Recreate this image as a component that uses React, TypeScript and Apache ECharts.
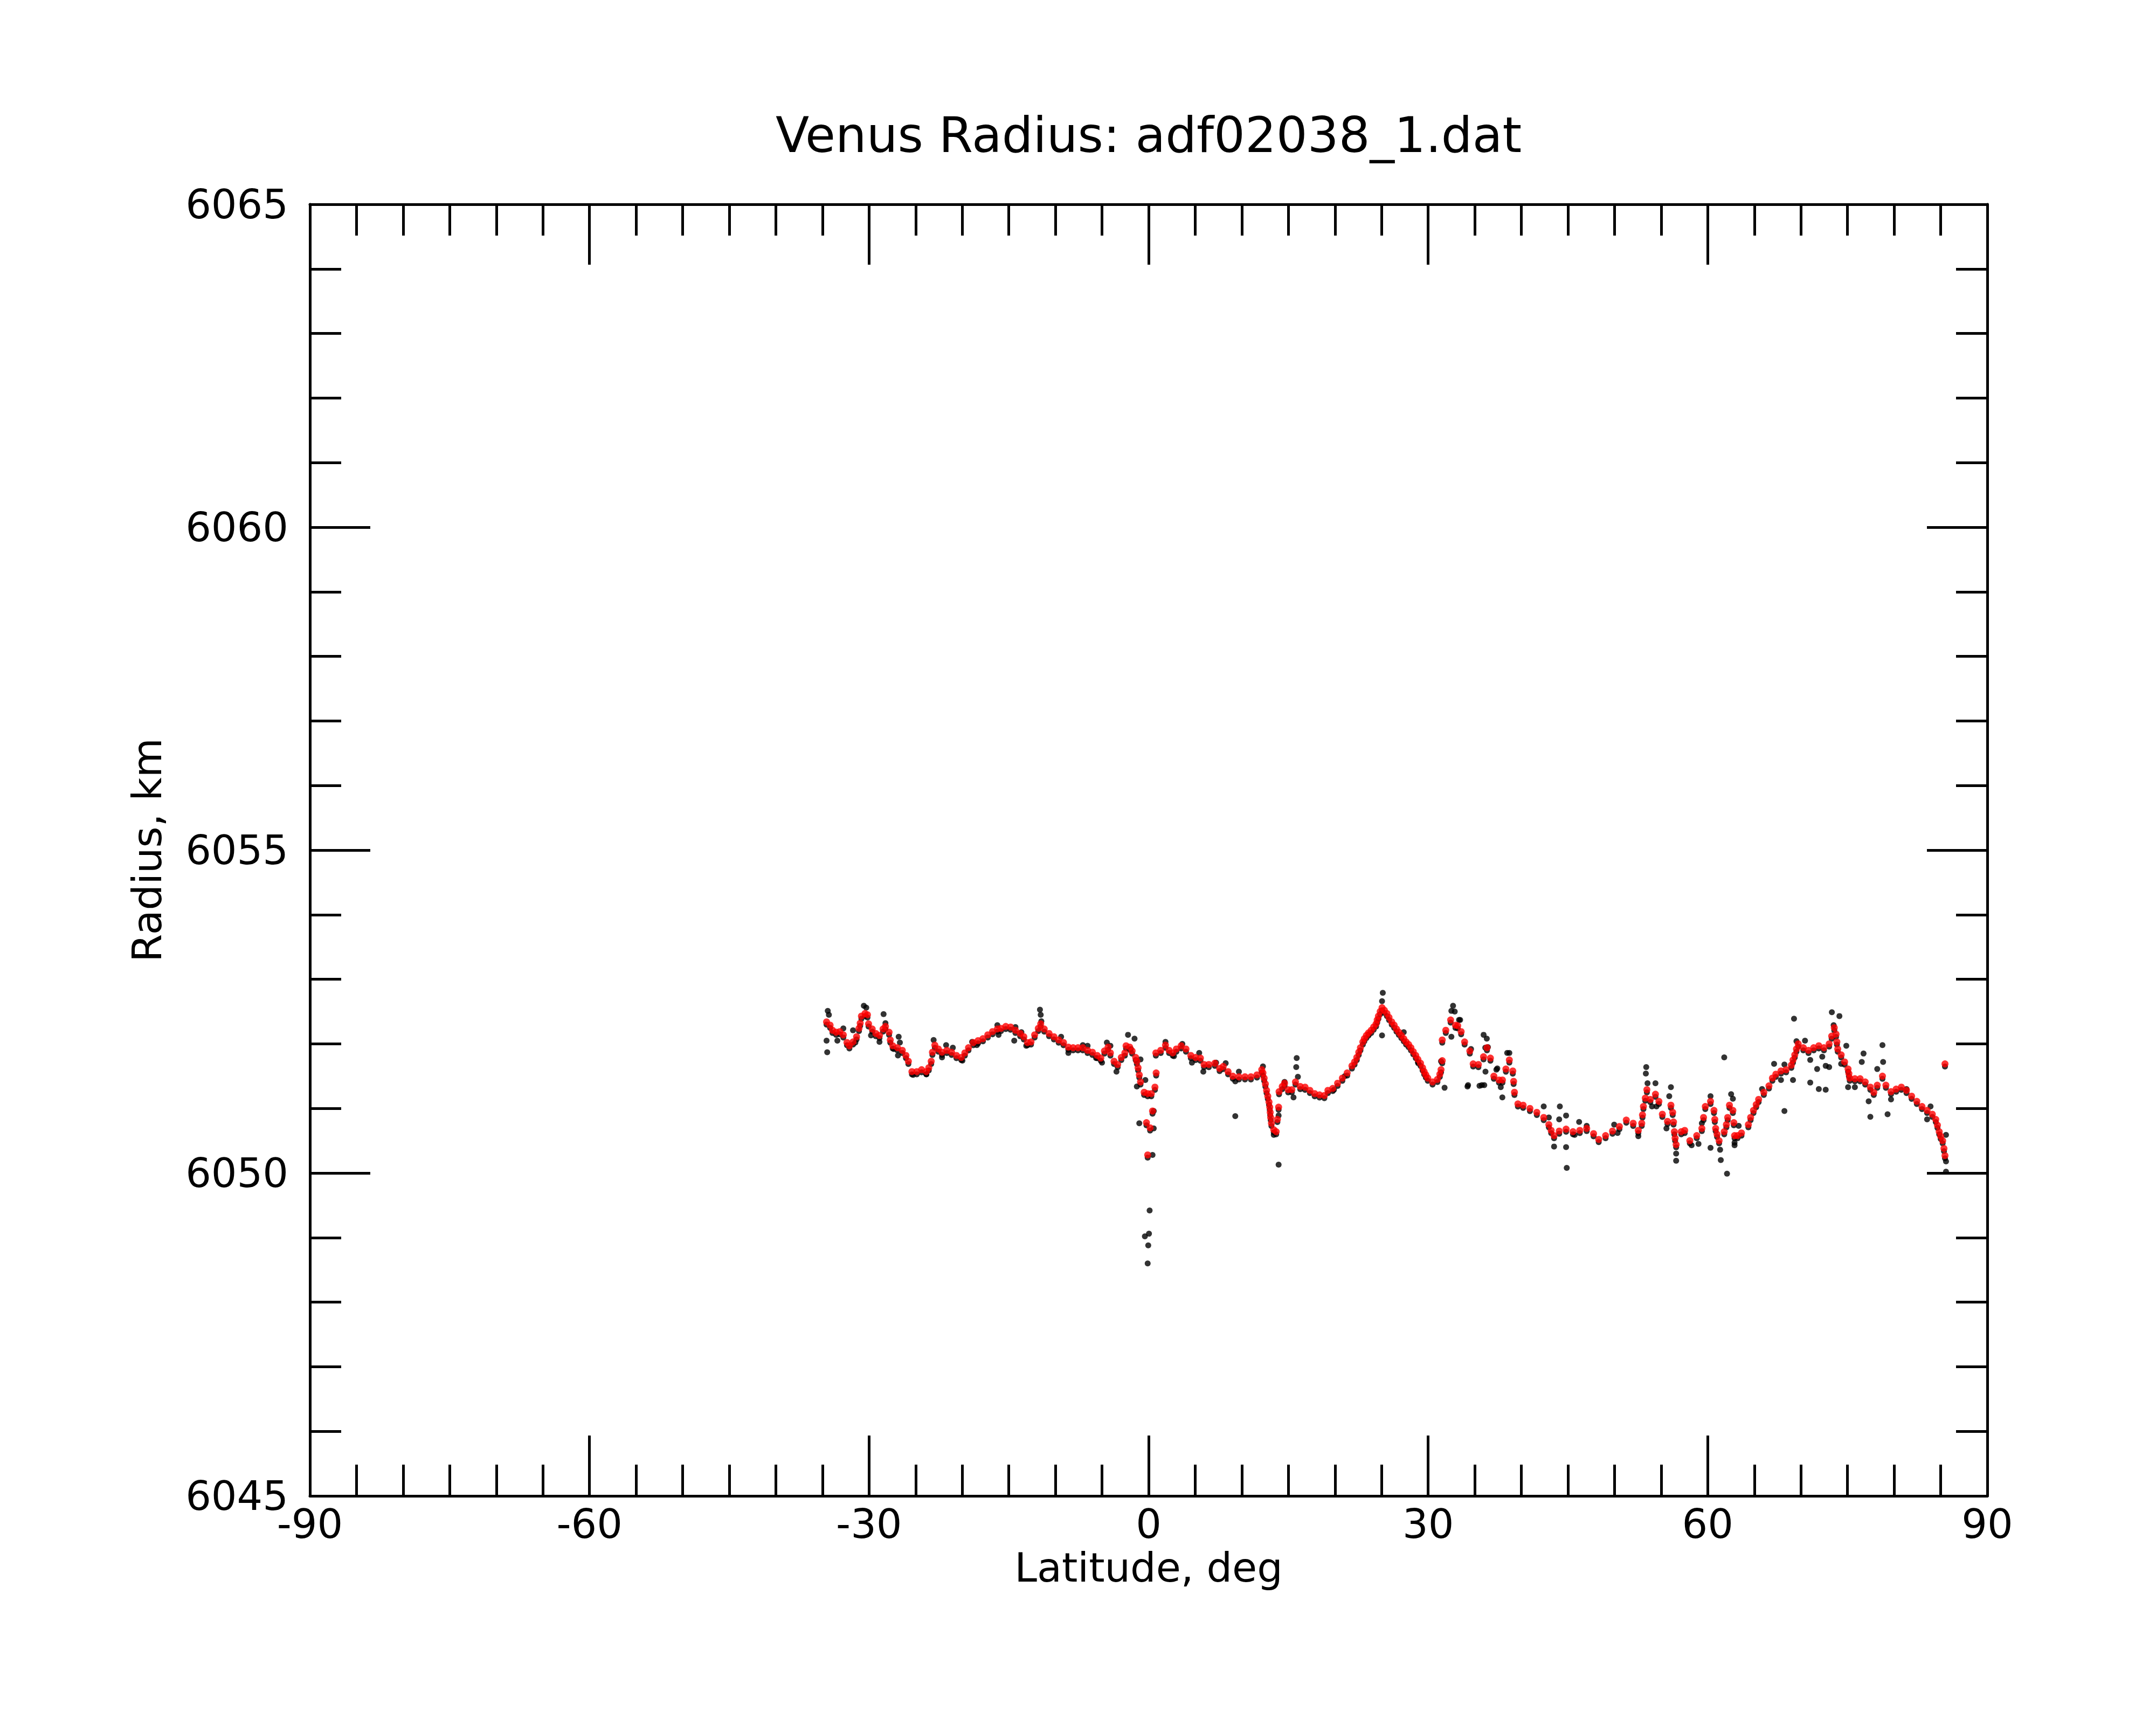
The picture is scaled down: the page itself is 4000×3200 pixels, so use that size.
import React, { useEffect, useRef } from "react";
import * as echarts from "echarts";

// Smoothed radius profile (red)
const smoothLat = [
  -34.56, -34.18, -33.92, -33.53, -33.14, -32.76, -32.37, -32.11, -31.72, -31.34,
  -31.08, -30.95, -30.82, -30.43, -30.17, -30.05, -29.66, -29.27, -28.88, -28.5,
  -28.24, -27.85, -27.72, -27.46, -26.95, -26.43, -26.04, -25.78, -25.4, -24.88,
  -24.36, -23.85, -23.59, -23.33, -23.2, -22.94, -22.56, -22.17, -21.65, -21.14,
  -20.62, -20.1, -19.72, -19.33, -18.81, -18.3, -17.78, -17.26, -16.75, -16.23,
  -15.84, -15.33, -14.81, -14.29, -13.78, -13.39, -13.0, -12.62, -12.23, -11.84,
  -11.58, -11.2, -10.68, -10.16, -9.65, -9.13, -8.61, -8.1, -7.58, -7.06,
  -6.55, -6.03, -5.52, -5.13, -4.74, -4.35, -4.1, -3.71, -3.32, -2.93,
  -2.55, -2.42, -2.03, -1.77, -1.39, -1.26, -1.13, -1.0, -0.87, -0.48,
  -0.1, 0.29, 0.68, 0.81, 0.42, -0.23, 0.16, -0.1,
  0.78, 1.3, 1.81, 2.2, 2.59, 2.98, 3.49, 4.01, 4.53, 5.04,
  5.56, 5.95, 6.46, 7.11, 7.62, 8.01, 8.53, 9.04, 9.69, 10.34,
  10.98, 11.63, 12.14, 12.27, 12.4, 12.53, 12.66, 12.79, 12.92, 13.0,
  13.05, 13.1, 13.18, 13.43, 13.69, 13.82, 13.95, 14.0, 14.34, 14.59,
  14.98, 15.37, 15.76, 16.27, 16.79, 17.31, 17.82, 18.34, 18.86, 19.24,
  19.76, 20.28, 20.79, 21.31, 21.82, 22.1, 22.34, 22.55, 22.73, 22.99,
  23.15, 23.37, 23.6, 23.89, 24.15, 24.41, 24.53, 24.66, 24.85, 25.05,
  25.3, 25.57, 25.8, 26.09, 26.35, 26.6, 26.85, 27.12, 27.38, 27.63,
  27.9, 28.15, 28.4, 28.67, 28.9, 29.18, 29.4, 29.57, 29.75, 29.96,
  30.47, 30.99, 31.25, 31.38, 31.51, 31.51, 31.89, 32.41, 32.93,
  33.17, 33.54, 33.91, 34.47, 34.83, 35.39, 35.94, 36.31, 36.68, 37.05,
  37.6, 37.97, 38.34, 38.71, 39.08, 39.17, 39.26, 39.63, 40.19, 40.92,
  41.66, 42.4, 42.95, 43.2, 43.51, 44.06, 44.8, 45.54, 46.27, 47.01,
  47.75, 48.3, 49.04, 49.78, 50.52, 51.26, 52.0, 52.55, 52.92, 53.0,
  53.1, 53.3, 53.47, 53.84, 54.39, 54.76, 55.13, 55.68, 56.05, 56.24,
  56.33, 56.42, 56.5, 56.61, 57.16, 57.53, 58.08, 58.82, 59.37, 59.55,
  59.74, 60.3, 60.67, 60.76, 60.85, 61.0, 61.22, 61.77, 62.0, 62.14,
  62.33, 62.7, 62.8, 62.88, 63.2, 63.62, 64.36, 64.6, 64.91, 65.2,
  65.46, 66.02, 66.57, 66.94, 67.31, 67.86, 68.41, 68.97, 69.15, 69.34,
  69.52, 69.71, 70.26, 70.81, 71.37, 71.92, 72.47, 73.03, 73.3, 73.58,
  73.77, 73.86, 73.95, 74.32, 74.69, 75.06, 75.15, 75.24, 75.79, 76.35,
  76.9, 77.45, 77.82, 78.19, 78.75, 79.12, 79.67, 80.22, 80.78, 81.33,
  81.88, 82.44, 82.99, 83.54, 84.1, 84.47, 84.65, 84.84, 85.0, 85.21,
  85.35, 85.46, 85.46,
];
const smoothRadius = [
  6052.34, 6052.29, 6052.21, 6052.18, 6052.19, 6052.14, 6052.02, 6051.97, 6052.03, 6052.11,
  6052.24, 6052.32, 6052.43, 6052.47, 6052.45, 6052.31, 6052.23, 6052.16, 6052.13, 6052.23,
  6052.27, 6052.18, 6052.06, 6051.97, 6051.94, 6051.9, 6051.82, 6051.73, 6051.57, 6051.57,
  6051.6, 6051.57, 6051.63, 6051.73, 6051.87, 6051.98, 6051.92, 6051.87, 6051.9, 6051.87,
  6051.82, 6051.79, 6051.86, 6051.94, 6052.02, 6052.05, 6052.08, 6052.14, 6052.19, 6052.23,
  6052.24, 6052.27, 6052.26, 6052.21, 6052.16, 6052.11, 6052.02, 6052.03, 6052.14, 6052.24,
  6052.31, 6052.23, 6052.16, 6052.11, 6052.06, 6052.02, 6051.95, 6051.94, 6051.94, 6051.94,
  6051.9, 6051.87, 6051.82, 6051.78, 6051.89, 6051.95, 6051.86, 6051.73, 6051.68, 6051.79,
  6051.86, 6051.97, 6051.95, 6051.89, 6051.79, 6051.73, 6051.63, 6051.52, 6051.41, 6051.25,
  6051.23, 6051.23, 6051.33, 6051.55, 6050.96, 6050.78, 6050.7, 6050.28,
  6051.86, 6051.9, 6051.98, 6051.9, 6051.86, 6051.92, 6051.97, 6051.92, 6051.82, 6051.79,
  6051.78, 6051.68, 6051.68, 6051.7, 6051.62, 6051.65, 6051.57, 6051.5, 6051.49, 6051.49,
  6051.49, 6051.52, 6051.6, 6051.55, 6051.47, 6051.38, 6051.28, 6051.19, 6051.1, 6051.02,
  6050.94, 6050.86, 6050.77, 6050.67, 6050.64, 6050.83, 6051.02, 6051.26, 6051.34, 6051.39,
  6051.29, 6051.29, 6051.41, 6051.34, 6051.33, 6051.28, 6051.23, 6051.21, 6051.2, 6051.28,
  6051.31, 6051.39, 6051.47, 6051.55, 6051.66, 6051.72, 6051.79, 6051.87, 6051.94, 6052.03,
  6052.08, 6052.13, 6052.17, 6052.21, 6052.26, 6052.31, 6052.37, 6052.43, 6052.5, 6052.56,
  6052.52, 6052.47, 6052.41, 6052.34, 6052.29, 6052.23, 6052.18, 6052.13, 6052.08, 6052.03,
  6051.99, 6051.94, 6051.88, 6051.82, 6051.76, 6051.7, 6051.63, 6051.57, 6051.52, 6051.47,
  6051.41, 6051.45, 6051.53, 6051.6, 6051.74, 6052.06, 6052.21, 6052.37, 6052.29,
  6052.28, 6052.19, 6052.03, 6051.89, 6051.69, 6051.68, 6051.8, 6051.94, 6051.78, 6051.5,
  6051.44, 6051.44, 6051.61, 6051.75, 6051.58, 6051.42, 6051.25, 6051.07, 6051.05, 6051.0,
  6050.94, 6050.86, 6050.75, 6050.66, 6050.58, 6050.65, 6050.68, 6050.64, 6050.66, 6050.69,
  6050.61, 6050.52, 6050.58, 6050.65, 6050.72, 6050.82, 6050.77, 6050.66, 6050.77, 6050.9,
  6051.03, 6051.16, 6051.29, 6051.14, 6051.22, 6051.11, 6050.91, 6050.8, 6051.05, 6050.94,
  6050.79, 6050.64, 6050.54, 6050.44, 6050.64, 6050.66, 6050.5, 6050.58, 6050.69, 6050.86,
  6051.03, 6051.11, 6050.97, 6050.83, 6050.69, 6050.6, 6050.5, 6050.64, 6050.75, 6050.86,
  6051.05, 6050.97, 6050.78, 6050.58, 6050.58, 6050.62, 6050.75, 6050.86, 6050.97, 6051.06,
  6051.14, 6051.25, 6051.35, 6051.47, 6051.53, 6051.58, 6051.6, 6051.67, 6051.75, 6051.83,
  6051.92, 6052.0, 6051.94, 6051.9, 6051.94, 6051.97, 6051.94, 6052.0, 6052.12, 6052.25,
  6052.15, 6052.03, 6051.92, 6051.83, 6051.72, 6051.61, 6051.54, 6051.47, 6051.46, 6051.46,
  6051.41, 6051.33, 6051.25, 6051.36, 6051.5, 6051.36, 6051.26, 6051.3, 6051.33, 6051.28,
  6051.19, 6051.11, 6051.03, 6050.97, 6050.91, 6050.83, 6050.74, 6050.64, 6050.57, 6050.5,
  6050.38, 6050.27, 6051.69,
];

// Raw measurements that stand apart from the smoothed profile (black)
const rawLat = [
  -34.43, -34.31, -34.56, -34.49, -33.4, -32.76, -31.72, -31.47, -30.56, -30.3,
  -29.79, -28.88, -28.44, -28.24, -27.33, -26.82, -26.69, -26.9, -25.27, -23.85,
  -23.07, -22.17, -21.73, -21.01, -19.98, -18.94, -18.43, -16.23, -16.1, -14.29,
  -14.42, -13.65, -13.13, -11.66, -11.58, -11.51, -9.39, -8.61, -7.06, -6.55,
  -5.64, -5.0, -4.48, -4.1, -3.45, -2.21, -1.51, -1.9, -0.87, -1.26,
  -0.35, -1.0, 0.55, 0.55, 0.42, 0.11, -0.4, 0.04, -0.04, -0.1,
  1.81, 2.72, 3.62, 4.65, 5.43, 5.87, 7.24, 8.27, 9.3, 9.69,
  9.3, 12.27, 13.43, 13.95, 13.95, 14.59, 15.55, 15.89, 15.84, 16.02,
  19.89, 21.05, 23.63, 25.05, 25.13, 25.05, 27.38, 28.93, 31.76, 31.38,
  32.67, 32.49, 32.85, 32.49, 33.31, 34.22, 34.6, 35.51, 36.02, 35.95,
  36.29, 36.41, 36.15, 37.32, 37.96, 38.48, 33.43, 36.13, 34.28, 35.76,
  37.42, 38.71, 37.79, 42.4, 42.95, 43.51, 44.13, 44.06, 44.8, 44.8,
  44.87, 45.72, 46.2, 47.01, 49.96, 50.33, 52.55, 53.4, 53.36, 53.54,
  54.39, 54.02, 54.5, 56.05, 55.87, 55.57, 56.61, 56.61, 58.27, 59.01,
  59.37, 60.3, 60.3, 61.77, 61.33, 61.4, 62.07, 62.51, 62.7, 62.88,
  63.32, 62.88, 65.83, 67.12, 67.86, 68.23, 68.23, 69.15, 69.26, 69.52,
  70.44, 71.0, 71.0, 71.74, 71.92, 72.29, 72.66, 72.66, 73.03, 73.32,
  73.51, 74.13, 74.87, 74.32, 75.06, 75.79, 76.72, 76.53, 77.27, 77.45,
  78.19, 78.75, 78.82, 79.3, 79.67, 83.91, 83.54, 85.57, 85.57, 85.57,
  81.33,
];
const rawRadius = [
  6052.51, 6052.45, 6052.05, 6051.87, 6052.05, 6052.24, 6052.21, 6052.02, 6052.59, 6052.56,
  6052.13, 6052.03, 6052.46, 6052.32, 6051.92, 6052.11, 6052.02, 6051.82, 6051.52, 6051.53,
  6052.06, 6051.79, 6051.98, 6051.94, 6051.74, 6052.03, 6051.98, 6052.29, 6052.14, 6052.26,
  6052.05, 6052.18, 6051.97, 6052.53, 6052.45, 6052.35, 6052.11, 6051.86, 6051.98, 6051.97,
  6051.78, 6051.71, 6052.02, 6051.97, 6051.57, 6052.14, 6052.08, 6051.92, 6051.76, 6051.34,
  6051.44, 6050.77, 6050.96, 6050.69, 6050.28, 6049.42, 6049.02, 6049.06, 6048.88, 6048.6,
  6052.03, 6051.81, 6052.0, 6051.71, 6051.86, 6051.57, 6051.71, 6051.7, 6051.42, 6051.57,
  6050.88, 6051.65, 6050.59, 6050.13, 6050.89, 6051.41, 6051.17, 6051.78, 6051.64, 6051.49,
  6051.29, 6051.5, 6052.15, 6052.13, 6052.79, 6052.66, 6052.18, 6051.7, 6051.32, 6051.73,
  6052.59, 6052.51, 6052.5, 6052.11, 6052.37, 6051.34, 6051.92, 6051.35, 6051.36, 6052.14,
  6052.08, 6051.95, 6051.57, 6051.6, 6051.17, 6051.86, 6052.37, 6051.94, 6051.36, 6051.36,
  6051.62, 6051.86, 6051.33, 6051.03, 6050.86, 6050.41, 6051.03, 6050.83, 6050.89, 6050.4,
  6050.08, 6050.59, 6050.79, 6050.73, 6050.75, 6050.62, 6050.57, 6051.64, 6051.54, 6051.39,
  6051.39, 6051.03, 6051.03, 6051.33, 6051.19, 6050.69, 6050.3, 6050.19, 6050.43, 6050.45,
  6050.77, 6051.19, 6050.39, 6051.79, 6050.36, 6050.2, 6049.99, 6051.22, 6051.15, 6050.47,
  6050.73, 6050.43, 6051.3, 6051.69, 6051.44, 6051.68, 6050.96, 6051.44, 6052.39, 6052.04,
  6052.05, 6051.75, 6051.4, 6051.61, 6051.3, 6051.8, 6051.66, 6051.29, 6051.64, 6052.49,
  6052.29, 6052.43, 6051.97, 6051.69, 6051.33, 6051.33, 6051.85, 6051.72, 6051.11, 6050.87,
  6051.61, 6051.98, 6051.72, 6050.91, 6051.14, 6051.03, 6050.83, 6050.59, 6050.18, 6050.02,
  6051.3,
];

const TITLE = "Venus Radius: adf02038_1.dat";
const X_NAME = "Latitude, deg";
const Y_NAME = "Radius, km";

const FONT = "DejaVu Sans";

function pairs(xs: number[], ys: number[]) {
  return xs.map((x, i) => [x, ys[i]]);
}

export default function App() {
  const ref = useRef<HTMLDivElement>(null);

  useEffect(() => {
    if (!ref.current) return;
    const chart = echarts.init(ref.current, undefined, { renderer: "svg" });

    const lineStyle = { color: "#000", width: 5 };
    const labelStyle = { fontSize: 75, fontFamily: FONT, color: "#000" };

    const baseX = {
      type: "value",
      min: -90,
      max: 90,
      interval: 30,
      axisLine: { show: true, onZero: false, lineStyle },
      axisTick: { show: true, inside: true, length: 112, lineStyle },
      minorTick: { show: true, splitNumber: 6, length: 58, lineStyle },
      splitLine: { show: false },
      minorSplitLine: { show: false },
    };
    const baseY = {
      type: "value",
      min: 6045,
      max: 6065,
      interval: 5,
      axisLine: { show: true, onZero: false, lineStyle },
      axisTick: { show: true, inside: true, length: 112, lineStyle },
      minorTick: { show: true, splitNumber: 5, length: 58, lineStyle },
      splitLine: { show: false },
      minorSplitLine: { show: false },
    };

    chart.setOption({
      animation: false,
      backgroundColor: "#fff",
      grid: { left: 575, top: 379, width: 3112, height: 2396, containLabel: false },
      graphic: [
        {
          type: "text",
          x: 2131,
          y: 250,
          style: {
            text: TITLE,
            fontSize: 91,
            fontFamily: FONT,
            fill: "#000",
            align: "center",
            verticalAlign: "middle",
            textAlign: "center",
            textVerticalAlign: "middle",
          },
        },
      ],
      xAxis: [
        {
          ...baseX,
          position: "bottom",
          name: X_NAME,
          nameLocation: "middle",
          nameGap: 95,
          nameTextStyle: labelStyle,
          axisLabel: { ...labelStyle, margin: 14, formatter: (v: number) => String(v) },
        },
        {
          ...baseX,
          position: "top",
          axisLabel: { show: false },
        },
      ],
      yAxis: [
        {
          ...baseY,
          position: "left",
          name: Y_NAME,
          nameLocation: "middle",
          nameRotate: 90,
          nameGap: 265,
          nameTextStyle: labelStyle,
          axisLabel: { ...labelStyle, margin: 40, formatter: (v: number) => String(v) },
        },
        {
          ...baseY,
          position: "right",
          axisLabel: { show: false },
        },
      ],
      series: [
        {
          type: "scatter",
          name: "raw (along profile)",
          xAxisIndex: 0,
          yAxisIndex: 0,
          data: pairs(smoothLat, smoothRadius),
          symbol: "circle",
          symbolSize: 11,
          symbolOffset: [0, 5],
          itemStyle: { color: "#000" },
          silent: true,
        },
        {
          type: "scatter",
          name: "raw",
          xAxisIndex: 0,
          yAxisIndex: 0,
          data: pairs(rawLat, rawRadius),
          symbol: "circle",
          symbolSize: 11,
          itemStyle: { color: "#000" },
          silent: true,
        },
        {
          type: "scatter",
          name: "smoothed",
          xAxisIndex: 0,
          yAxisIndex: 0,
          data: pairs(smoothLat, smoothRadius),
          symbol: "circle",
          symbolSize: 13,
          itemStyle: { color: "#ff0000" },
          silent: true,
        },
      ],
    });

    return () => chart.dispose();
  }, []);

  return (
    <div
      ref={ref}
      style={{ position: "absolute", left: 0, top: 0, width: 4000, height: 3200 }}
    />
  );
}
